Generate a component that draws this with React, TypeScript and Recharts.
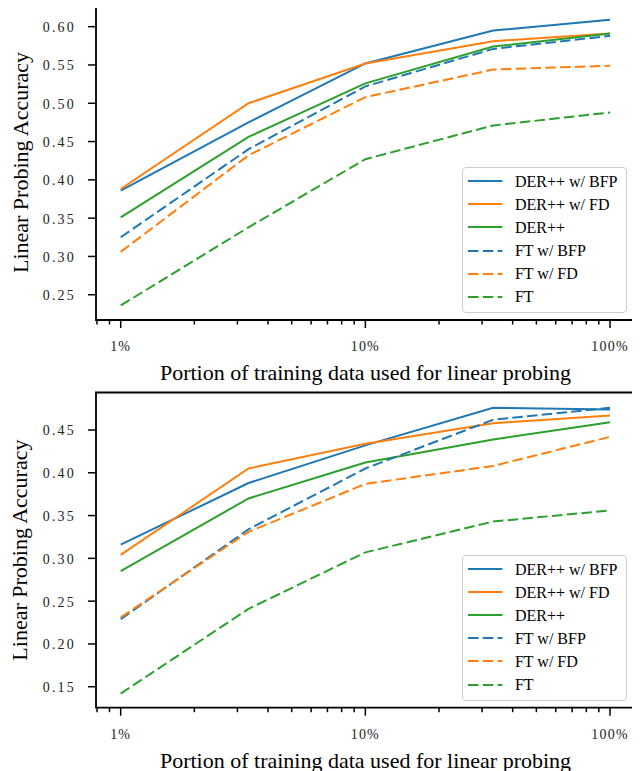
import React from "react";
import { LineChart, Line, XAxis, YAxis, ReferenceArea, Legend } from "recharts";

// portion of training data (%), log-spaced
const portions = [1, 3.33, 10, 33.3, 100];

// top panel
const topDerBfp = [0.386, 0.475, 0.552, 0.595, 0.609];
const topDerFd = [0.388, 0.5, 0.552, 0.581, 0.591];
const topDer = [0.351, 0.456, 0.526, 0.574, 0.591];
const topFtBfp = [0.325, 0.44, 0.522, 0.571, 0.588];
const topFtFd = [0.306, 0.432, 0.508, 0.544, 0.549];
const topFt = [0.236, 0.338, 0.427, 0.471, 0.488];

// bottom panel
const botDerBfp = [0.316, 0.388, 0.432, 0.476, 0.474];
const botDerFd = [0.304, 0.405, 0.434, 0.458, 0.467];
const botDer = [0.285, 0.37, 0.412, 0.439, 0.459];
const botFtBfp = [0.229, 0.334, 0.405, 0.462, 0.476];
const botFtFd = [0.231, 0.331, 0.387, 0.408, 0.442];
const botFt = [0.142, 0.241, 0.307, 0.343, 0.356];

const topYTicks = [0.25, 0.3, 0.35, 0.4, 0.45, 0.5, 0.55, 0.6];
const botYTicks = [0.15, 0.2, 0.25, 0.3, 0.35, 0.4, 0.45];
const xMajor = [1, 10, 100];
const xTicks = [0.8, 0.9, 1, 2, 3, 4, 5, 6, 7, 8, 9, 10, 20, 30, 40, 50, 60, 70, 80, 90, 100];

const BLUE = "#1f77b4";
const ORANGE = "#ff7f0e";
const GREEN = "#2ca02c";
const DASH = "10.5 4.3";

const series = [
  { key: "derBfp", name: "DER++ w/ BFP", color: BLUE, dash: undefined },
  { key: "derFd", name: "DER++ w/ FD", color: ORANGE, dash: undefined },
  { key: "der", name: "DER++", color: GREEN, dash: undefined },
  { key: "ftBfp", name: "FT w/ BFP", color: BLUE, dash: DASH },
  { key: "ftFd", name: "FT w/ FD", color: ORANGE, dash: DASH },
  { key: "ft", name: "FT", color: GREEN, dash: DASH },
];

function buildRows(cols: number[][]) {
  return portions.map((p, i) => ({
    p,
    derBfp: cols[0][i],
    derFd: cols[1][i],
    der: cols[2][i],
    ftBfp: cols[3][i],
    ftFd: cols[4][i],
    ft: cols[5][i],
  }));
}

const topData = buildRows([topDerBfp, topDerFd, topDer, topFtBfp, topFtFd, topFt]);
const botData = buildRows([botDerBfp, botDerFd, botDer, botFtBfp, botFtFd, botFt]);

const SERIF = "'Liberation Serif', 'Times New Roman', serif";
const TICKFONT = "'Liberation Serif', serif";
const X_DOMAIN: [number, number] = [0.7926, 126.5];

const XTick = ({ x, y, payload }: any) => {
  const major = xMajor.includes(payload.value);
  return (
    <g>
      <line x1={x} x2={x} y1={y} y2={y + (major ? 8 : 4.5)} stroke="#000" strokeWidth={1.5} />
      {major && (
        <text x={x} y={y + 31} textAnchor="middle" fontFamily={TICKFONT} fontSize={14} letterSpacing={1.2} fill="#222">
          {payload.value + "%"}
        </text>
      )}
    </g>
  );
};

const YTick = ({ x, y, payload }: any) => (
  <g>
    <line x1={x - 8} x2={x} y1={y} y2={y} stroke="#000" strokeWidth={1.5} />
    <text x={x - 20} y={y + 5.5} textAnchor="end" fontFamily={TICKFONT} fontSize={14} letterSpacing={2.2} fill="#222">
      {payload.value.toFixed(2)}
    </text>
  </g>
);

const LegendBox = () => (
  <div
    style={{
      boxSizing: "border-box",
      width: 165,
      height: 146,
      background: "rgba(255,255,255,0.8)",
      border: "1px solid #cccccc",
      borderRadius: 4,
      paddingTop: 2,
    }}
  >
    {series.map((s) => (
      <div key={s.key} style={{ display: "flex", alignItems: "center", height: 23.1 }}>
        <svg width={34.4} height={6} style={{ marginLeft: 5.6, marginRight: 12.3, display: "block" }}>
          <line x1={0} x2={34.4} y1={3} y2={3} stroke={s.color} strokeWidth={2} strokeDasharray={s.dash} />
        </svg>
        <span style={{ fontFamily: SERIF, fontSize: 16, color: "#000", whiteSpace: "nowrap", lineHeight: "23px" }}>
          {s.name}
        </span>
      </div>
    ))}
  </div>
);

function Panel({
  data,
  height,
  top,
  xAxisHeight,
  yDomain,
  yTicks,
  legendTop,
}: {
  data: any[];
  height: number;
  top: number;
  xAxisHeight: number;
  yDomain: [number, number];
  yTicks: number[];
  legendTop: number;
}) {
  return (
    <LineChart width={640} height={height} data={data} margin={{ top, right: 5, bottom: 0, left: 0 }}>
      <XAxis
        dataKey="p"
        type="number"
        scale="log"
        domain={X_DOMAIN}
        allowDataOverflow
        ticks={xTicks}
        interval={0}
        tickSize={0}
        tickMargin={0}
        tickLine={false}
        axisLine={false}
        height={xAxisHeight}
        tick={<XTick />}
        label={{
          content: (props: any) => {
            const vb = props.viewBox;
            return (
              <text x={vb.x + vb.width / 2} y={vb.y + 60} textAnchor="middle" fontFamily={SERIF} fontSize={22} fill="#000">
                Portion of training data used for linear probing
              </text>
            );
          },
        }}
      />
      <YAxis
        type="number"
        domain={yDomain}
        allowDataOverflow
        ticks={yTicks}
        interval={0}
        tickSize={0}
        tickMargin={0}
        tickLine={false}
        axisLine={false}
        width={96}
        tick={<YTick />}
        label={{
          content: (props: any) => {
            const vb = props.viewBox;
            const cy = vb.y + vb.height / 2;
            return (
              <text
                x={27.5}
                y={cy}
                textAnchor="middle"
                transform={`rotate(-90, 27.5, ${cy})`}
                fontFamily={SERIF}
                fontSize={22}
                fill="#000"
              >
                Linear Probing Accuracy
              </text>
            );
          },
        }}
      />
      {series.map((s) => (
        <Line
          key={s.key}
          dataKey={s.key}
          name={s.name}
          stroke={s.color}
          strokeWidth={2}
          strokeDasharray={s.dash}
          dot={false}
          activeDot={false}
          type="linear"
          isAnimationActive={false}
        />
      ))}
      <ReferenceArea
        x1={X_DOMAIN[0]}
        x2={X_DOMAIN[1]}
        y1={yDomain[0]}
        y2={yDomain[1]}
        fill="none"
        stroke="#000"
        strokeWidth={1.8}
        ifOverflow="visible"
      />
      <Legend
        layout="vertical"
        align="center"
        verticalAlign="middle"
        content={() => <LegendBox />}
        wrapperStyle={{ left: 461.7, top: legendTop, width: 165, height: 146 }}
      />
    </LineChart>
  );
}

export default function App() {
  return (
    <div style={{ position: "relative", width: 640, height: 771, marginLeft: -8, marginTop: -8, overflow: "hidden", background: "#fff" }}>
      <Panel data={topData} height={385} top={5} xAxisHeight={65} yDomain={[0.217, 0.6283]} yTicks={topYTicks} legendTop={166.7} />
      <Panel data={botData} height={386} top={7.5} xAxisHeight={63.3} yDomain={[0.1255, 0.4938]} yTicks={botYTicks} legendTop={169.5} />
    </div>
  );
}
